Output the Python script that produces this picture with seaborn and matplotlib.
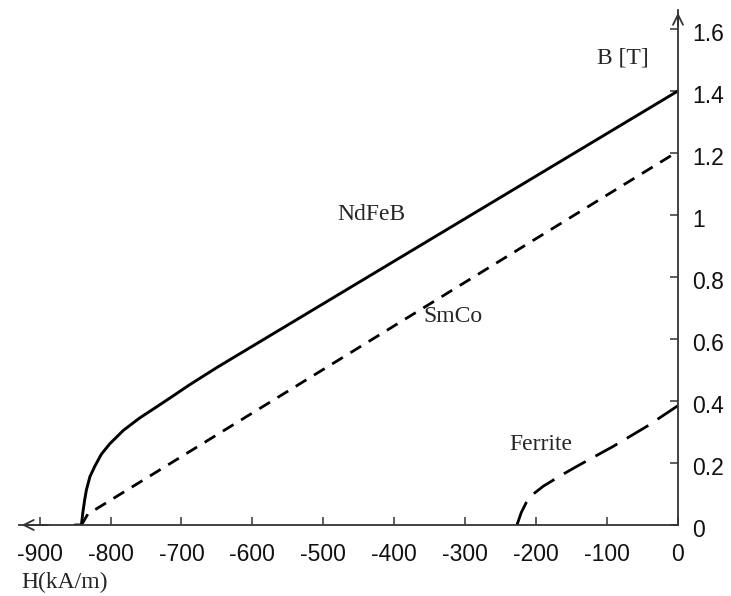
import matplotlib
matplotlib.use("Agg")
import matplotlib.pyplot as plt
import matplotlib.transforms as mtransforms
import seaborn as sns
import pandas as pd

# --- data ---
ndfeb_H = [-850, -841, -839, -836.5, -834, -829, -822, -813, -801, -782, -759, -735, -712, -690, -650, 0]
ndfeb_B = [0.0, 0.0, 0.04, 0.08, 0.113, 0.156, 0.190, 0.228, 0.262, 0.305, 0.345, 0.381, 0.416, 0.450, 0.508, 1.40]

smco_H = [-841, -832, 0]
smco_B = [0.0, 0.035, 1.205]

ferrite_H = [-227, -221, -214, -205, -190, -165, -138, -91, -44, 0]
ferrite_B = [0.0, 0.04, 0.072, 0.098, 0.125, 0.160, 0.195, 0.254, 0.318, 0.385]

x_ticks = [-900, -800, -700, -600, -500, -400, -300, -200, -100, 0]
y_ticks = [0, 0.2, 0.4, 0.6, 0.8, 1.0, 1.2, 1.4, 1.6]
y_ticklabels = ["0", "0.2", "0.4", "0.6", "0.8", "1", "1.2", "1.4", "1.6"]

sns.set_style("white")
plt.rcParams["font.family"] = ["Liberation Sans", "DejaVu Sans"]

W, Hpx = 731, 596
x_left_px, x_zero_px = 19, 678
y_zero_px, y_top_px = 525, 10
xmin, ymax = -929, 1.661

fig = plt.figure(figsize=(7.31, 5.96), dpi=100)
ax = fig.add_axes([x_left_px / W, 1 - y_zero_px / Hpx,
                   (x_zero_px - x_left_px) / W, (y_zero_px - y_top_px) / Hpx])

df_nd = pd.DataFrame({"H": ndfeb_H, "B": ndfeb_B})
df_sm = pd.DataFrame({"H": smco_H, "B": smco_B})
df_fe = pd.DataFrame({"H": ferrite_H, "B": ferrite_B})

sns.lineplot(data=df_nd, x="H", y="B", sort=False, color="black", lw=2.1, ax=ax)
ax.lines[-1].set_solid_joinstyle("round")
sns.lineplot(data=df_sm, x="H", y="B", sort=False, color="black", lw=2.0, ax=ax)
ax.lines[-1].set_dashes([4.5, 3.2])
sns.lineplot(data=df_fe, x="H", y="B", sort=False, color="black", lw=2.0, ax=ax)
ax.lines[-1].set_dashes([9, 4])

ax.set_xlim(xmin, 0)
ax.set_ylim(0, ymax)

for s in ["top", "left"]:
    ax.spines[s].set_visible(False)
for s in ["bottom", "right"]:
    ax.spines[s].set_visible(True)
    ax.spines[s].set_color("#333333")
    ax.spines[s].set_linewidth(1.3)

ax.set_xticks(x_ticks)
ax.set_xticklabels([str(v) for v in x_ticks])
ax.set_yticks(y_ticks)
ax.set_yticklabels(y_ticklabels)
ax.yaxis.tick_right()
ax.xaxis.tick_bottom()
ax.tick_params(axis="x", direction="in", length=6, width=1.1, color="#333333",
               labelsize=16.5, pad=13, labelcolor="#111111")
ax.tick_params(axis="y", direction="in", length=6, width=1.1, color="#333333",
               labelsize=16.5, pad=10, labelcolor="#111111")
ax.set_xlabel("")
ax.set_ylabel("")

# y tick labels sit slightly below their ticks in the reference
offset = mtransforms.ScaledTranslation(0, -3 / 100, fig.dpi_scale_trans)
for lab in ax.get_yticklabels():
    lab.set_transform(lab.get_transform() + offset)

# axis arrows
ax.annotate("", xy=(xmin, 0), xytext=(xmin + 45, 0),
            arrowprops=dict(arrowstyle="->", color="#333333", lw=1.3, mutation_scale=18),
            annotation_clip=False)
ax.annotate("", xy=(0, ymax), xytext=(0, ymax - 0.06),
            arrowprops=dict(arrowstyle="->", color="#333333", lw=1.3, mutation_scale=18),
            annotation_clip=False)

serif = ["Liberation Serif", "DejaVu Serif"]
fig.text(623 / W, 1 - 58 / Hpx, "B [T]", family=serif, fontsize=17, ha="center", va="center")
fig.text(371 / W, 1 - 214 / Hpx, "NdFeB", family=serif, fontsize=17, ha="center", va="center")
fig.text(453 / W, 1 - 316 / Hpx, "SmCo", family=serif, fontsize=17, ha="center", va="center")
fig.text(541 / W, 1 - 445 / Hpx, "Ferrite", family=serif, fontsize=17, ha="center", va="center")
fig.text(65 / W, 1 - 582 / Hpx, "H(kA/m)", family=serif, fontsize=17, ha="center", va="center")

fig.savefig("out.png", dpi=100)
